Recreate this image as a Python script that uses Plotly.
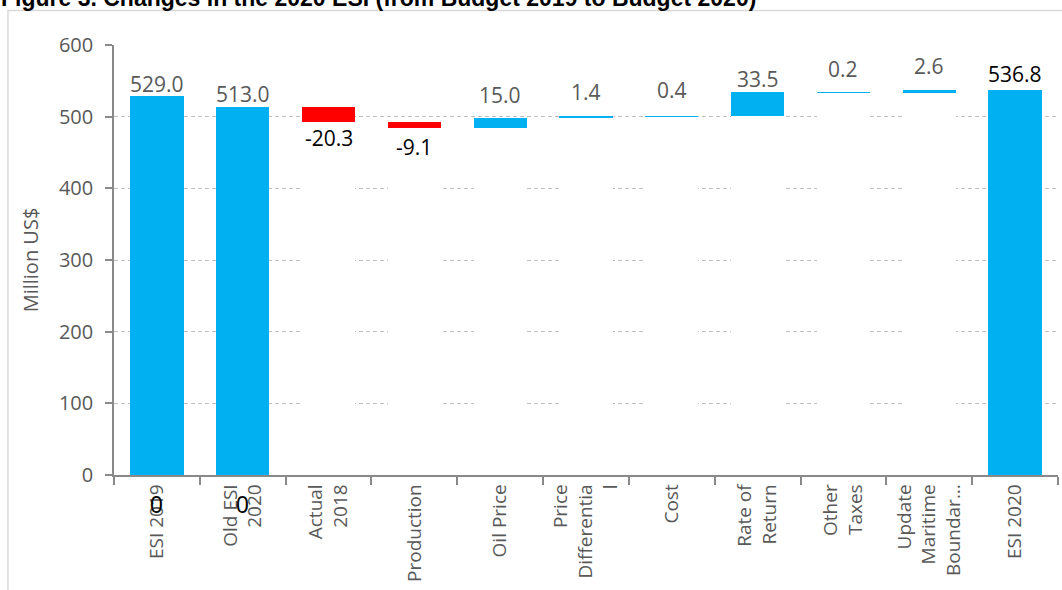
import plotly.graph_objects as go

# ---------------- data ----------------
categories = ["ESI 2019", "Old ESI 2020", "Actual 2018", "Production", "Oil Price",
              "Price Differential", "Cost", "Rate of Return", "Other Taxes",
              "Update Maritime Boundary", "ESI 2020"]
tick_labels = ["ESI 2019", "Old ESI<br>2020", "Actual<br>2018", "Production", "Oil Price",
               "Price<br>Differentia<br>l", "Cost", "Rate of<br>Return", "Other<br>Taxes",
               "Update<br>Maritime<br>Boundar…", "ESI 2020"]
values = [529.0, 513.0, -20.3, -9.1, 15.0, 1.4, 0.4, 33.5, 0.2, 2.6, 536.8]
kinds = ["total", "total", "delta", "delta", "delta", "delta", "delta", "delta",
         "delta", "delta", "total"]
label_texts = ["529.0", "513.0", "-20.3", "-9.1", "15.0", "1.4", "0.4", "33.5", "0.2", "2.6", "536.8"]
zero_label_cats = ["ESI 2019", "Old ESI 2020"]
zero_label_texts = ["0", "0"]
title_text = "Figure 3. Changes in the 2020 ESI (from Budget 2019 to Budget 2020)"
y_title = "Million US$"

# ---------------- styles ----------------
BLUE = "#00B0F0"
RED = "#FF0000"
GRAY_TXT = "#595959"
label_colors = [GRAY_TXT, GRAY_TXT, "#000000", "#000000", GRAY_TXT, GRAY_TXT, GRAY_TXT,
                GRAY_TXT, GRAY_TXT, GRAY_TXT, "#000000"]
# pixel offsets of labels from bar end (style only)
label_shift = [-4, -3, 0, -3, 7, 9, 10, -3, 7, 8, 0]

W, H = 1062, 590
L, R, T, B = 113.6, 4, 44.5, 115
PW, PH = W - L - R, H - T - B


def px2x(px):
    return (px - L) / PW


def py2y(py):
    return (H - B - py) / PH


# waterfall geometry computed from values
bases, heights, colors = [], [], []
running = 0.0
for v, k in zip(values, kinds):
    if k == "total":
        bases.append(0.0)
        heights.append(v)
        running = v
    else:
        new = running + v
        bases.append(min(running, new))
        heights.append(abs(v))
        running = new
    colors.append(BLUE if v >= 0 else RED)

fig = go.Figure()
fig.add_trace(go.Bar(x=categories, y=bases, marker=dict(color="white", line=dict(width=0)),
                     hoverinfo="skip", showlegend=False))
fig.add_trace(go.Bar(x=categories, y=heights, marker=dict(color=colors, line=dict(width=0)),
                     showlegend=False))

annotations = []
for c, v, b, h, t, col, s in zip(categories, values, bases, heights, label_texts,
                                  label_colors, label_shift):
    if v >= 0:
        annotations.append(dict(x=c, y=b + h, xref="x", yref="y", text=t, showarrow=False,
                                yanchor="bottom", yshift=s,
                                font=dict(family="Open Sans", size=21, color=col)))
    else:
        annotations.append(dict(x=c, y=b, xref="x", yref="y", text=t, showarrow=False,
                                yanchor="top", yshift=s,
                                font=dict(family="Open Sans", size=21, color=col)))

for c, t in zip(zero_label_cats, zero_label_texts):
    annotations.append(dict(x=c, y=0, xref="x", yref="y", text=t, showarrow=False,
                            yanchor="middle", yshift=-30,
                            font=dict(family="Liberation Sans", size=23, color="#000000")))

annotations.append(dict(x=px2x(-1), y=py2y(12.5), xref="paper", yref="paper",
                        text="<b>" + title_text + "</b>",
                        showarrow=False, xanchor="left", yanchor="bottom",
                        font=dict(family="Liberation Sans", size=23, color="#000000")))

fig.update_layout(
    width=W, height=H,
    margin=dict(l=L, r=R, t=T, b=B, pad=0),
    paper_bgcolor="white", plot_bgcolor="white",
    barmode="stack", bargap=0.38,
    annotations=annotations,
    shapes=[dict(type="rect", xref="paper", yref="paper",
                 x0=px2x(7.5), x1=px2x(1080), y0=py2y(10), y1=py2y(620),
                 line=dict(color="#D9D9D9", width=1.5), fillcolor="rgba(0,0,0,0)")],
    font=dict(family="Open Sans", color=GRAY_TXT),
)

fig.update_yaxes(range=[0, 600], dtick=100, tick0=0,
                 showgrid=True, gridcolor="#BFBFBF", gridwidth=1, griddash="4px,3px",
                 zeroline=False, showline=True, linecolor="#898989", linewidth=1.5,
                 ticks="outside", ticklen=7, tickcolor="#898989", tickwidth=1.5,
                 ticklabelstandoff=8,
                 tickfont=dict(family="Open Sans", size=20, color=GRAY_TXT),
                 title=dict(text=y_title, standoff=15,
                            font=dict(family="Open Sans", size=20, color=GRAY_TXT)))
fig.update_xaxes(tickmode="array", tickvals=categories, ticktext=tick_labels,
                 tickangle=-90, tickson="boundaries", ticks="outside", ticklen=8,
                 tickcolor="#898989", tickwidth=1.5,
                 showline=True, linecolor="#898989", linewidth=1.5, showgrid=False,
                 tickfont=dict(family="Open Sans", size=19, color=GRAY_TXT))

fig.write_html("out.html", config={"displayModeBar": False},
               post_script="document.body.style.margin='0px';document.body.style.overflow='hidden';")
